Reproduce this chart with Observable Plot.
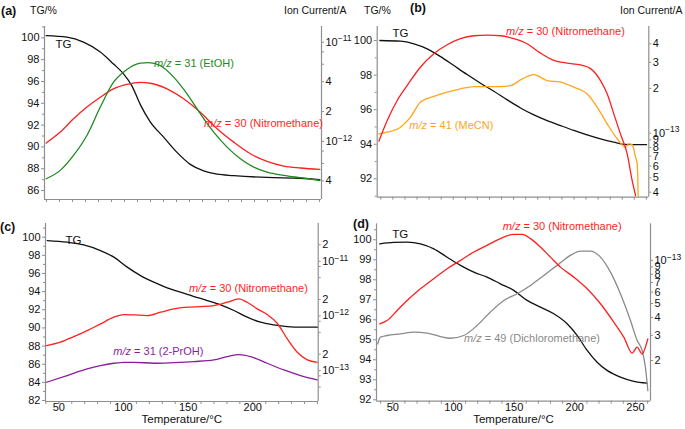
<!DOCTYPE html>
<html><head><meta charset="utf-8">
<script src="https://cdn.jsdelivr.net/npm/d3@7"></script>
<script src="https://cdn.jsdelivr.net/npm/@observablehq/plot@0.6"></script>
<style>
html,body{margin:0;padding:0;background:#fff;}
#root{position:relative;width:685px;height:429px;overflow:hidden;font-family:"Liberation Sans",Arial,Helvetica,sans-serif;color:#111;}
.hdr{position:absolute;font-size:10.5px;line-height:13px;white-space:nowrap;}
.tag{font-weight:bold;font-size:12.5px;}
#root svg{position:absolute;}
</style></head><body><div id="root"></div>
<script>
// ---------------- DATA (Temperature °C, value) ----------------
// Panel (a)
const aTG = [[39.8,100.2],[55.7,100.06],[68.5,99.6],[81.4,98.7],[91.6,97.6],[99.3,96.7],[105.7,95.6],[112.1,93.9],[119.8,92.3],[130.1,90.9],[140.4,89.5],[150.6,88.4],[160.9,87.8],[171.2,87.5],[184,87.37],[209.6,87.2],[235.3,87.13],[250.2,87.0]];
const aEtOH = [[39.8,4.21e-13],[50.6,5.11e-13],[60.8,7.23e-13],[71.1,1.148e-12],[81.4,2.22e-12],[91.6,3.95e-12],[101.9,5.31e-12],[112.1,6.15e-12],[118.6,6.24e-12],[127.5,5.82e-12],[137.8,4.45e-12],[148.1,3.02e-12],[158.3,1.905e-12],[168.6,1.242e-12],[178.9,8.77e-13],[189.1,6.70e-13],[199.4,5.52e-13],[209.6,4.91e-13],[222.5,4.55e-13],[235.3,4.31e-13],[250.2,4.05e-13]];
const aNitro = [[39.8,9.62e-13],[50.6,1.242e-12],[60.8,1.69e-12],[71.1,2.22e-12],[81.4,2.79e-12],[91.6,3.39e-12],[101.9,3.75e-12],[112.1,3.93e-12],[119.8,3.86e-12],[132.7,3.39e-12],[145.5,2.69e-12],[158.3,1.97e-12],[171.2,1.343e-12],[184,9.84e-13],[196.8,7.52e-13],[209.6,6.30e-13],[222.5,5.65e-13],[235.3,5.40e-13],[250.2,5.22e-13]];
// Panel (b)
const bTG = [[39.2,100],[56.3,99.96],[67.4,99.81],[78.4,99.52],[89.5,99.07],[100.5,98.55],[111.5,98.03],[122.6,97.53],[133.6,97.07],[144.7,96.57],[155.7,96.1],[166.8,95.7],[177.8,95.37],[188.9,95.08],[199.9,94.8],[210.9,94.54],[222,94.31],[233,94.12],[241.3,94.0],[260.1,93.98]];
const bNitro = [[38.4,8.83e-14],[45.3,1.216e-13],[53.6,1.66e-13],[61.8,2.09e-13],[72.9,2.79e-13],[83.9,3.43e-13],[95,3.94e-13],[106,4.33e-13],[117.1,4.53e-13],[128.1,4.57e-13],[139.2,4.53e-13],[150.2,4.33e-13],[161.2,4.0e-13],[172.3,3.46e-13],[183.3,3.09e-13],[194.4,2.96e-13],[205.4,2.88e-13],[213.7,2.72e-13],[222,2.26e-13],[227.5,1.84e-13],[233,1.349e-13],[238.5,9.89e-14],[244.1,7.24e-14],[248.2,4.80e-14],[251,3.80e-14]];
const bMeCN = [[38.4,9.89e-14],[45.3,1.014e-13],[56.3,1.096e-13],[64.6,1.282e-13],[72.9,1.618e-13],[83.9,1.766e-13],[95,1.888e-13],[106,1.99e-13],[117.1,2.06e-13],[128.1,2.06e-13],[139.2,2.06e-13],[147.4,2.09e-13],[157.1,2.32e-13],[166.8,2.48e-13],[177.8,2.26e-13],[188.9,2.21e-13],[199.9,2.04e-13],[210.9,1.84e-13],[219.2,1.496e-13],[227.5,1.156e-13],[235.8,9.16e-14],[242.7,8.04e-14],[245.5,8.47e-14],[248.2,8.37e-14],[251,6.89e-14],[252.4,6.21e-14],[253.2,3.70e-14]];
// Panel (c)
const cTG = [[41,99.63],[56.4,99.45],[69.3,99.15],[82.2,98.53],[92.6,97.8],[102.9,96.7],[113.2,95.77],[123.5,95.04],[133.8,94.42],[144.1,93.94],[154.5,93.46],[164.8,93.02],[175.1,92.54],[185.4,91.92],[195.7,91.18],[206,90.63],[216.4,90.34],[226.7,90.15],[237,90.08],[249.9,90.08]];
const cNitro = [[40.5,2.86e-13],[51.3,3.30e-13],[61.6,4.19e-13],[71.9,5.40e-13],[82.2,7.14e-13],[92.6,9.46e-13],[100.3,1.057e-12],[108,1.042e-12],[118.4,1.014e-12],[128.7,1.167e-12],[139,1.343e-12],[149.3,1.442e-12],[159.6,1.483e-12],[169.9,1.545e-12],[180.3,1.778e-12],[189.3,2.05e-12],[195.7,1.778e-12],[203.5,1.343e-12],[211.2,1.057e-12],[218.9,7.35e-13],[226.7,3.79e-13],[234.4,2.16e-13],[242.2,1.567e-13],[249.9,1.419e-13]];
const cPrOH = [[40.5,6.12e-14],[56.4,8.11e-14],[71.9,1.072e-13],[82.2,1.233e-13],[92.6,1.361e-13],[100.3,1.419e-13],[108,1.419e-13],[123.5,1.361e-13],[139,1.40e-13],[154.5,1.462e-13],[169.9,1.567e-13],[180.3,1.803e-13],[189.3,1.963e-13],[198.3,1.803e-13],[211.2,1.361e-13],[224.1,1.028e-13],[237,8.11e-14],[249.9,6.76e-14]];
// Panel (d)
const dTG = [[39.3,99.8],[50.8,99.87],[61.8,99.88],[72.8,99.8],[83.8,99.55],[94.8,99.13],[105.8,98.72],[116.8,98.38],[127.7,98.13],[138.7,97.8],[149.7,97.47],[160.7,96.97],[171.7,96.63],[182.7,96.3],[193.7,95.8],[201.9,95.22],[210.2,94.47],[218.4,93.88],[226.6,93.47],[237.6,93.13],[248.6,92.92],[259.6,92.83]];
const dNitro = [[39.3,3.61e-14],[45.3,3.80e-14],[53.6,4.47e-14],[61.8,5.25e-14],[72.8,6.34e-14],[83.8,7.45e-14],[94.8,8.75e-14],[105.8,1.0e-13],[116.8,1.143e-13],[127.7,1.274e-13],[138.7,1.419e-13],[149.7,1.52e-13],[156.6,1.52e-13],[163.5,1.419e-13],[171.7,1.239e-13],[179.9,1.054e-13],[188.2,8.97e-14],[199.2,7.64e-14],[210.2,6.34e-14],[221.2,4.98e-14],[232.1,3.71e-14],[240.4,2.91e-14],[247.3,2.25e-14],[251.4,2.48e-14],[255.5,2.22e-14],[258.2,2.48e-14],[260.2,2.83e-14]];
const dDCM = [[37.6,2.61e-14],[39.8,2.91e-14],[45.3,2.99e-14],[56.3,3.07e-14],[67.3,3.16e-14],[78.3,3.11e-14],[89.3,2.94e-14],[97.5,2.86e-14],[108.5,2.99e-14],[119.5,3.51e-14],[130.5,4.36e-14],[141.5,5.25e-14],[152.5,5.85e-14],[163.5,6.68e-14],[174.5,7.85e-14],[185.4,9.23e-14],[196.4,1.084e-13],[204.7,1.161e-13],[212.9,1.161e-13],[221.2,1.054e-13],[229.4,8.28e-14],[237.6,5.85e-14],[245.9,3.80e-14],[251.4,2.76e-14],[255.5,2.35e-14],[258.2,1.795e-14],[260.2,1.233e-14]];

// ---------------- TICKS ----------------
const aTgTicks = [86,88,90,92,94,96,98,100];
const aTgMinor = [87,89,91,93,95,97,99,101];
const bTgTicks = [92,94,96,98,100];
const bTgMinor = [91,93,95,97,99];
const cTgTicks = [82,84,86,88,90,92,94,96,98,100];
const cTgMinor = [83,85,87,89,91,93,95,97,99,101];
const dTgTicks = [92,93,94,95,96,97,98,99,100];
const dTgMinor = [92.5,93.5,94.5,95.5,96.5,97.5,98.5,99.5,100.5];
const xMinorAC = [40,50,60,70,80,90,100,110,120,130,140,150,160,170,180,190,200,210,220,230,240,250];
const xMinorBD = [40,50,60,70,80,90,100,110,120,130,140,150,160,170,180,190,200,210,220,230,240,250,260];
const cXLabels = [50,100,150,200];
const dXLabels = [50,100,150,200,250];
const aIonTicks = [1e-11,8e-12,6e-12,4e-12,2e-12,1e-12,8e-13,6e-13,4e-13];
const aIonLabels = ["10^−11","8","6","4","2","10^−12","8","6","4"];
const bIonTicks = [4e-13,3e-13,2e-13,1e-13,9e-14,8e-14,7e-14,6e-14,5e-14,4e-14];
const bIonLabels = ["4","3","2","10^−13","9","8","7","6","5","4"];
const cIonTicks = [2e-11,1e-11,8e-12,5e-12,2e-12,1e-12,8e-13,5e-13,2e-13,1e-13,8e-14,5e-14];
const cIonLabels = ["2","10^−11","8","5","2","10^−12","8","5","2","10^−13","8","5"];
const dIonTicks = [1e-13,9e-14,8e-14,7e-14,6e-14,5e-14,4e-14,3e-14,2e-14];
const dIonLabels = ["10^−13","9","8","7","6","5","4","3","2"];

// ---------------- LAYOUT ----------------
const fontFam = '"Liberation Sans", Arial, Helvetica, sans-serif';
const axisGray = "#8f8f8f";
const RED = "#ff1f1f", GREEN = "#1f8a1f", ORANGE = "#ffa51a", PURPLE = "#8a1d9a", GRAY = "#8a8a8a";

const panels = [
  {left:0, top:0, w:345, h:215, ml:44, mr:24, mt:26, mb:16,
   xDomain:[38.5,251.5], tgDomain:[85.18,101.04], ionDomain:[2.6e-13,1.44e-11],
   tgTicks:aTgTicks, tgMinor:aTgMinor, xMinor:xMinorAC, xLabels:null,
   ionTicks:aIonTicks, ionLabels:aIonLabels, tg:aTG, tgLab:[47,99.4],
   ion:[{data:aNitro,color:RED},{data:aEtOH,color:GREEN}],
   labels:[{t:123.1,v:6.1e-12,rest:" = 31 (EtOH)",color:GREEN},{t:161.6,v:1.507e-12,rest:" = 30 (Nitromethane)",color:RED}]},
  {left:345, top:0, w:340, h:215, ml:31.7, mr:36.7, mt:26, mb:18.3,
   xDomain:[37,262], tgDomain:[90.94,100.81], ionDomain:[3.7e-14,5.23e-13],
   tgTicks:bTgTicks, tgMinor:bTgMinor, xMinor:xMinorBD, xLabels:null,
   ionTicks:bIonTicks, ionLabels:bIonLabels, tg:bTG, tgLab:[49.7,100.4],
   ion:[{data:bMeCN,color:ORANGE},{data:bNitro,color:RED}],
   labels:[{t:144.1,v:4.84e-13,rest:" = 30 (Nitromethane)",color:RED},{t:64,v:1.127e-13,rest:" = 41 (MeCN)",color:ORANGE}]},
  {left:0, top:215, w:345, h:214, ml:45, mr:27.3, mt:8, mb:28,
   xDomain:[39.7,250.6], tgDomain:[81.89,101.51], ionDomain:[2.72e-14,4.9e-11],
   tgTicks:cTgTicks, tgMinor:cTgMinor, xMinor:xMinorAC, xLabels:cXLabels,
   ionTicks:cIonTicks, ionLabels:cIonLabels, tg:cTG, tgLab:[55.2,99.64],
   ion:[{data:cPrOH,color:PURPLE},{data:cNitro,color:RED}],
   labels:[{t:151,v:3.17e-12,rest:" = 30 (Nitromethane)",color:RED},{t:92.5,v:2.23e-13,rest:" = 31 (2-PrOH)",color:PURPLE}]},
  {left:345, top:215, w:340, h:214, ml:31, mr:35, mt:8.3, mb:28.3,
   xDomain:[36.6,262.4], tgDomain:[91.93,100.8], ionDomain:[1.04e-14,1.8e-13],
   tgTicks:dTgTicks, tgMinor:dTgMinor, xMinor:xMinorBD, xLabels:dXLabels,
   ionTicks:dIonTicks, ionLabels:dIonLabels, tg:dTG, tgLab:[49.5,100.25],
   ion:[{data:dDCM,color:GRAY},{data:dNitro,color:RED}],
   labels:[{t:141,v:1.71e-13,rest:" = 30 (Nitromethane)",color:RED},{t:109.1,v:2.86e-14,rest:" = 49 (Dichloromethane)",color:GRAY}]}
];

const headers = [
  {text:"(a)", x:1, y:12, tag:true}, {text:"TG/%", x:30, y:11}, {text:"Ion Current/A", x:284, y:11},
  {text:"TG/%", x:364, y:11}, {text:"(b)", x:410, y:8.5, tag:true}, {text:"Ion Current/A", x:620, y:11},
  {text:"(c)", x:0, y:227.5, tag:true}, {text:"(d)", x:353, y:225, tag:true}
];

const root = document.getElementById("root");

function supFix(svg) {
  d3.select(svg).selectAll("text").each(function() {
    const m = /^10\^(.+)$/.exec(this.textContent);
    if (m) {
      const sel = d3.select(this);
      sel.text(null);
      sel.append("tspan").text("10");
      sel.append("tspan").attr("dy", "-0.5em").attr("font-size", "8.5px").text(m[1]);
    }
  });
}

for (const p of panels) {
  const common = {width:p.w, height:p.h, marginLeft:p.ml, marginRight:p.mr, marginTop:p.mt, marginBottom:p.mb,
    style:{background:"transparent", overflow:"visible", fontFamily:fontFam, fontSize:"11px", color:"#111"}};
  const tgPlot = Plot.plot({...common,
    x:{domain:p.xDomain},
    y:{domain:p.tgDomain},
    marks:[
      Plot.ruleX([p.xDomain[0], p.xDomain[1]], {stroke:axisGray, strokeWidth:1.2}),
      Plot.ruleY([p.tgDomain[0]], {stroke:axisGray, strokeWidth:1.2}),
      Plot.axisY({anchor:"left", ticks:p.tgMinor, tickSize:2, tickFormat:() => "", stroke:axisGray}),
      Plot.axisY({anchor:"left", ticks:p.tgTicks, tickSize:3, tickPadding:2, stroke:axisGray, fill:"#111"}),
      Plot.axisX({anchor:"bottom", ticks:p.xMinor, tickSize:3, tickFormat:() => "", stroke:axisGray}),
      p.xLabels ? Plot.axisX({anchor:"bottom", ticks:p.xLabels, tickSize:2, tickPadding:0, stroke:axisGray, fill:"#111"}) : null,
      p.xLabels ? Plot.text(["Temperature/°C"], {frameAnchor:"bottom", dy:21.5, text:d => d, fill:"#111", fontSize:11.5}) : null,
      Plot.line(p.tg, {x:d => d[0], y:d => d[1], stroke:"#111", strokeWidth:1.3, curve:"monotone-x"}),
      Plot.text([p.tgLab], {x:d => d[0], y:d => d[1], text:() => "TG", textAnchor:"start", fill:"#111", fontSize:11.5})
    ]});
  const lab = new Map(p.ionTicks.map((t, i) => [t, p.ionLabels[i]]));
  const ionPlot = Plot.plot({...common,
    x:{domain:p.xDomain, axis:null},
    y:{type:"log", domain:p.ionDomain},
    marks:[
      Plot.axisY({anchor:"right", ticks:p.ionTicks, tickFormat:d => lab.get(d), tickSize:2, tickPadding:2, stroke:axisGray, fill:"#111"}),
      ...p.ion.map(s => Plot.line(s.data, {x:d => d[0], y:d => d[1], stroke:s.color, strokeWidth:1.3, curve:"monotone-x", clip:true}))
    ]});
  supFix(ionPlot);
  const sx = ionPlot.scale("x"), sy = ionPlot.scale("y");
  for (const L of p.labels) {
    const t = d3.select(ionPlot).append("text")
      .attr("x", sx.apply(L.t)).attr("y", sy.apply(L.v)).attr("dy", "0.35em")
      .attr("text-anchor", "start")
      .attr("fill", L.color).attr("font-size", "11px");
    t.append("tspan").attr("font-style", "italic").text("m/z");
    t.append("tspan").text(L.rest);
  }
  for (const svg of [tgPlot, ionPlot]) {
    svg.style.position = "absolute";
    svg.style.left = p.left + "px";
    svg.style.top = p.top + "px";
    root.appendChild(svg);
  }
}

for (const h of headers) {
  const d = document.createElement("div");
  d.className = "hdr" + (h.tag ? " tag" : "");
  d.textContent = h.text;
  d.style.left = h.x + "px";
  d.style.top = (h.y - 7) + "px";
  root.appendChild(d);
}
</script></body></html>
